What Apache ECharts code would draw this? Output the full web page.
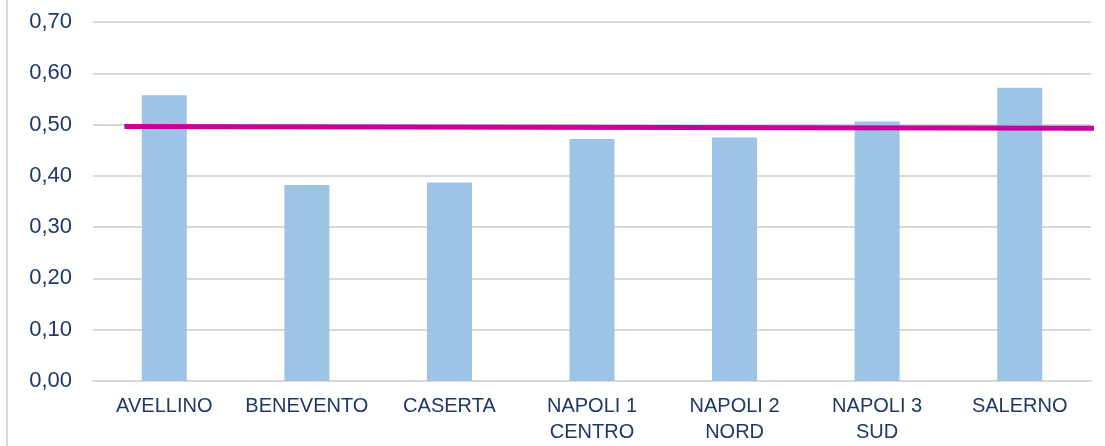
<!DOCTYPE html>
<html>
<head>
<meta charset="utf-8">
<script src="https://cdn.jsdelivr.net/npm/echarts@6/dist/echarts.min.js"></script>
<style>
  html, body { margin: 0; padding: 0; background: #fff; }
  #wrap { position: relative; width: 1105px; height: 446px; }
  #edge { position: absolute; left: 6px; top: 0; width: 2px; height: 446px; background: #d9d9d9; }
  #chart { position: absolute; left: 0; top: 0; width: 1105px; height: 446px; }
</style>
</head>
<body>
<div id="wrap">
  <div id="edge"></div>
  <div id="chart"></div>
</div>
<script>
// categorie (ASL)
const categories = ['AVELLINO', 'BENEVENTO', 'CASERTA', 'NAPOLI 1\nCENTRO', 'NAPOLI 2\nNORD', 'NAPOLI 3\nSUD', 'SALERNO'];
// valori delle barre
const values = [0.557, 0.382, 0.387, 0.472, 0.475, 0.506, 0.572];
// linea di riferimento (x su asse nascosto, y valore)
const refX = [0.22, 7.08];
const refY = [0.496, 0.493];
// etichette asse y
const yMin = 0, yMax = 0.7, yStep = 0.1;

const textColor = '#1f3864';
const chart = echarts.init(document.getElementById('chart'));

const option = {
  animation: false,
  grid: { left: 93, right: 14, top: 22, bottom: 65, containLabel: false },
  xAxis: [
    {
      type: 'category',
      data: categories,
      axisLine: { show: true, lineStyle: { color: '#d9d9d9', width: 2 } },
      axisTick: { show: false },
      axisLabel: {
        color: textColor,
        fontFamily: 'Liberation Sans, Arial, sans-serif',
        fontSize: 20,
        lineHeight: 26,
        margin: 12,
        interval: 0
      }
    },
    {
      type: 'value',
      min: 0,
      max: categories.length,
      show: false
    }
  ],
  yAxis: {
    type: 'value',
    min: yMin,
    max: yMax,
    interval: yStep,
    axisLine: { show: false },
    axisTick: { show: false },
    splitLine: { lineStyle: { color: '#d9d9d9', width: 2 } },
    axisLabel: {
      color: textColor,
      fontFamily: 'Liberation Sans, Arial, sans-serif',
      fontSize: 22,
      margin: 21,
      formatter: v => v.toFixed(2).replace('.', ',')
    }
  },
  series: [
    {
      type: 'bar',
      data: values,
      barWidth: 45,
      itemStyle: { color: '#9dc3e6' }
    },
    {
      type: 'line',
      xAxisIndex: 1,
      data: refX.map((x, i) => [x, refY[i]]),
      symbol: 'none',
      clip: false,
      lineStyle: { color: '#c8009b', width: 5 },
      z: 5
    }
  ]
};

chart.setOption(option);
</script>
</body>
</html>
